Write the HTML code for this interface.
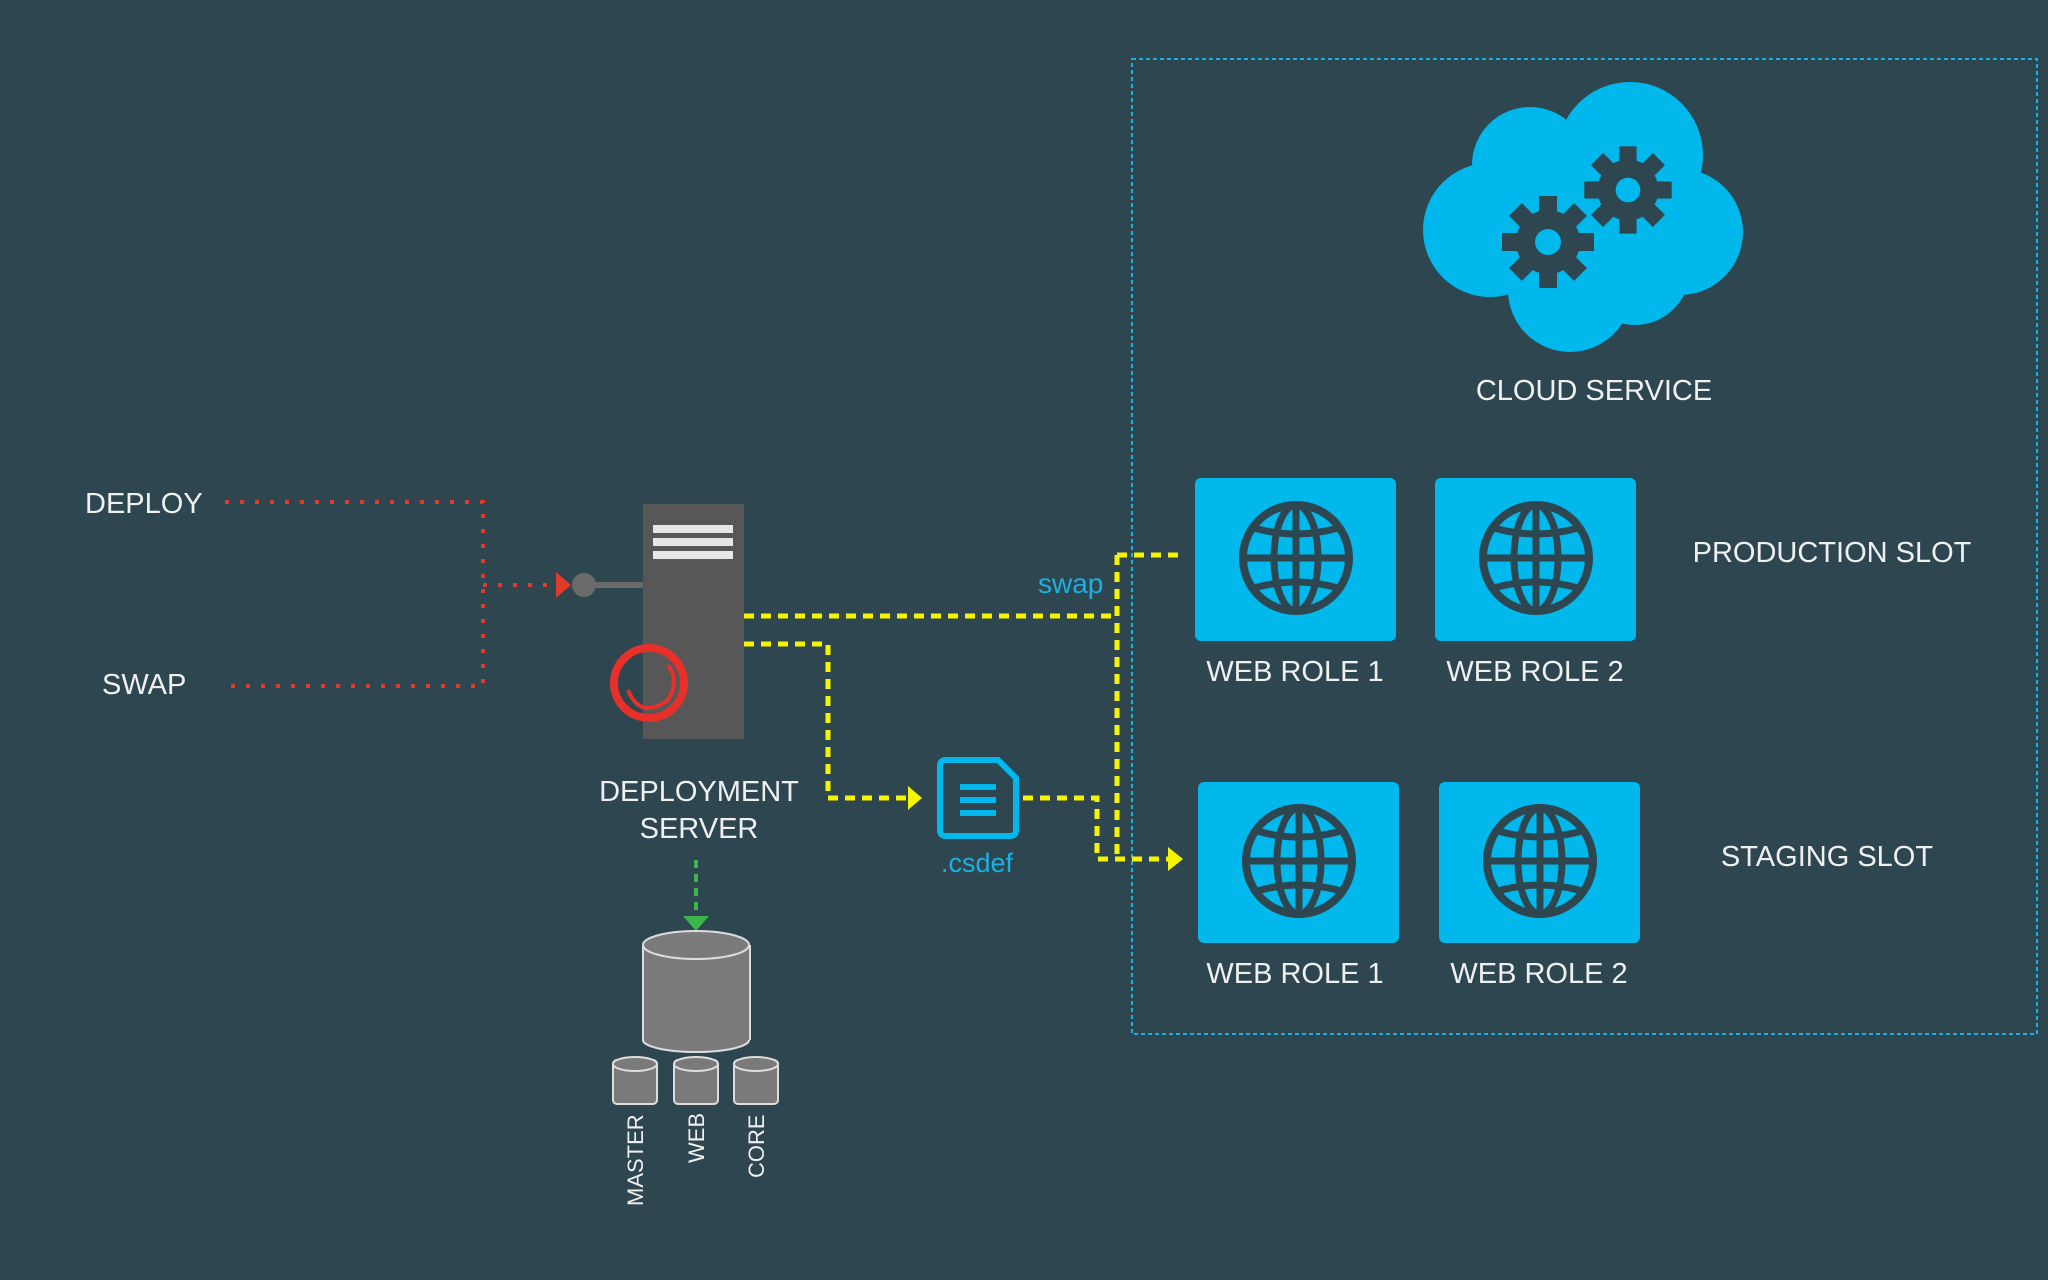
<!DOCTYPE html>
<html><head><meta charset="utf-8"><style>
html,body{margin:0;padding:0;background:#2e4650;}
svg{display:block;font-family:"Liberation Sans",sans-serif;}
</style></head><body>
<svg width="2048" height="1280" viewBox="0 0 2048 1280" xmlns="http://www.w3.org/2000/svg">
<defs>
<g id="globe">
<circle cx="0" cy="0" r="53" fill="none" stroke="#2e4650" stroke-width="8"/>
<ellipse cx="0" cy="0" rx="22" ry="53" fill="none" stroke="#2e4650" stroke-width="7"/>
<line x1="0" y1="-53" x2="0" y2="53" stroke="#2e4650" stroke-width="7"/>
<line x1="-53" y1="0" x2="53" y2="0" stroke="#2e4650" stroke-width="7"/>
<path d="M-42 -30 Q0 -18 42 -30 M-42 30 Q0 18 42 30" fill="none" stroke="#2e4650" stroke-width="7"/>
</g>
<g id="gear">
<circle r="32" fill="#2e4650"/>
<g fill="#2e4650">
<rect x="-9" y="-46" width="18" height="92"/>
<rect x="-9" y="-46" width="18" height="92" transform="rotate(45)"/>
<rect x="-9" y="-46" width="18" height="92" transform="rotate(90)"/>
<rect x="-9" y="-46" width="18" height="92" transform="rotate(135)"/>
</g>
<circle r="13" fill="#00b8ec"/>
</g>
<g id="smalldb">
<rect x="-22" y="0" width="44" height="44" rx="4" fill="#7a7a7a" stroke="#ddd" stroke-width="2"/>
<ellipse cx="0" cy="4" rx="22" ry="7" fill="#7a7a7a" stroke="#ddd" stroke-width="2"/>
</g>
</defs>
<rect width="2048" height="1280" fill="#2e4650"/>
<!-- cloud service container -->
<rect x="1132" y="59" width="905" height="975" fill="none" stroke="#1ab0e0" stroke-width="2" stroke-dasharray="4,3"/>
<!-- cloud -->
<g fill="#00b8ec">
<circle cx="1630" cy="155" r="73"/>
<circle cx="1530" cy="165" r="58"/>
<circle cx="1490" cy="230" r="67"/>
<circle cx="1680" cy="232" r="63"/>
<circle cx="1570" cy="290" r="62"/>
<circle cx="1635" cy="270" r="55"/>
<rect x="1500" y="200" width="200" height="90"/>
</g>
<use href="#gear" x="1548" y="242"/>
<use href="#gear" x="1628" y="190" transform="translate(1628 190) scale(0.95) translate(-1628 -190)"/>
<text x="1594" y="400" fill="#f0f0f0" font-size="29" text-anchor="middle">CLOUD SERVICE</text>
<!-- web roles -->
<rect x="1195" y="478" width="201" height="163" rx="6" fill="#00b8ec"/>
<rect x="1435" y="478" width="201" height="163" rx="6" fill="#00b8ec"/>
<rect x="1198" y="782" width="201" height="161" rx="6" fill="#00b8ec"/>
<rect x="1439" y="782" width="201" height="161" rx="6" fill="#00b8ec"/>
<use href="#globe" x="1296" y="558"/>
<use href="#globe" x="1536" y="558"/>
<use href="#globe" x="1299" y="861"/>
<use href="#globe" x="1540" y="861"/>
<g fill="#f0f0f0" font-size="29" text-anchor="middle">
<text x="1295" y="681">WEB ROLE 1</text>
<text x="1535" y="681">WEB ROLE 2</text>
<text x="1295" y="983">WEB ROLE 1</text>
<text x="1539" y="983">WEB ROLE 2</text>
<text x="1832" y="562">PRODUCTION SLOT</text>
<text x="1827" y="866">STAGING SLOT</text>
</g>
<!-- left labels -->
<text x="85" y="513" fill="#f0f0f0" font-size="29">DEPLOY</text>
<text x="102" y="694" fill="#f0f0f0" font-size="29">SWAP</text>
<!-- red dotted -->
<g fill="none" stroke="#e03a2a" stroke-width="4" stroke-dasharray="4,11">
<path d="M225 502 H483 V686 H225"/>
<path d="M483 585 H558"/>
</g>
<polygon points="556,572 571,585 556,598" fill="#e03a2a"/>
<!-- server -->
<line x1="584" y1="585" x2="645" y2="585" stroke="#6a6a6a" stroke-width="6"/>
<circle cx="584" cy="585" r="12" fill="#6a6a6a"/>
<rect x="643" y="504" width="101" height="235" fill="#575757"/>
<rect x="653" y="525" width="80" height="8" fill="#e6e6e6"/>
<rect x="653" y="538" width="80" height="8" fill="#e6e6e6"/>
<rect x="653" y="551" width="80" height="8" fill="#e6e6e6"/>
<circle cx="649" cy="683" r="35" fill="none" stroke="#e8302a" stroke-width="8"/>
<path d="M628 690 Q640 720 668 700 Q680 680 668 665" fill="none" stroke="#e8302a" stroke-width="4"/>
<text x="699" y="801" fill="#f0f0f0" font-size="29" text-anchor="middle">DEPLOYMENT</text>
<text x="699" y="838" fill="#f0f0f0" font-size="29" text-anchor="middle">SERVER</text>
<!-- yellow dashed -->
<g fill="none" stroke="#f5f500" stroke-width="5" stroke-dasharray="10,7">
<path d="M744 616 H1117"/>
<path d="M1117 555 V859"/>
<path d="M1117 555 H1182"/>
<path d="M744 644 H828 V798 H910"/>
<path d="M1023 798 H1097 V859 H1170"/>
</g>
<polygon points="908,786 922,798 908,810" fill="#f5f500"/>
<polygon points="1168,847 1183,859 1168,871" fill="#f5f500"/>
<text x="1038" y="593" fill="#1ab0e0" font-size="28">swap</text>
<!-- csdef -->
<path d="M946 760 H998 L1016 778 V830 Q1016 836 1010 836 H946 Q940 836 940 830 V766 Q940 760 946 760 Z" fill="#2e4650" stroke="#00b8ec" stroke-width="6"/>
<rect x="960" y="784" width="36" height="6" fill="#00b8ec"/>
<rect x="960" y="797" width="36" height="6" fill="#00b8ec"/>
<rect x="960" y="810" width="36" height="6" fill="#00b8ec"/>
<text x="977" y="872" fill="#1ab0e0" font-size="27" text-anchor="middle">.csdef</text>
<!-- green -->
<line x1="696" y1="860" x2="696" y2="918" stroke="#3cb54a" stroke-width="4" stroke-dasharray="8,6"/>
<polygon points="683,916 709,916 696,931" fill="#3cb54a"/>
<!-- database -->
<rect x="643" y="945" width="107" height="95" fill="#7a7a7a"/>
<ellipse cx="696" cy="1040" rx="53" ry="12" fill="#7a7a7a" stroke="#ddd" stroke-width="2"/>
<rect x="643" y="945" width="107" height="95" fill="#7a7a7a"/>
<path d="M643 945 V1040 M750 945 V1040" stroke="#ddd" stroke-width="2"/>
<ellipse cx="696" cy="945" rx="53" ry="14" fill="#7a7a7a" stroke="#ddd" stroke-width="2"/>
<use href="#smalldb" x="635" y="1060"/>
<use href="#smalldb" x="696" y="1060"/>
<use href="#smalldb" x="756" y="1060"/>
<g fill="#f0f0f0" font-size="22">
<text transform="translate(643 1206) rotate(-90)">MASTER</text>
<text transform="translate(704 1163) rotate(-90)">WEB</text>
<text transform="translate(764 1178) rotate(-90)">CORE</text>
</g>
</svg>
</body></html>
